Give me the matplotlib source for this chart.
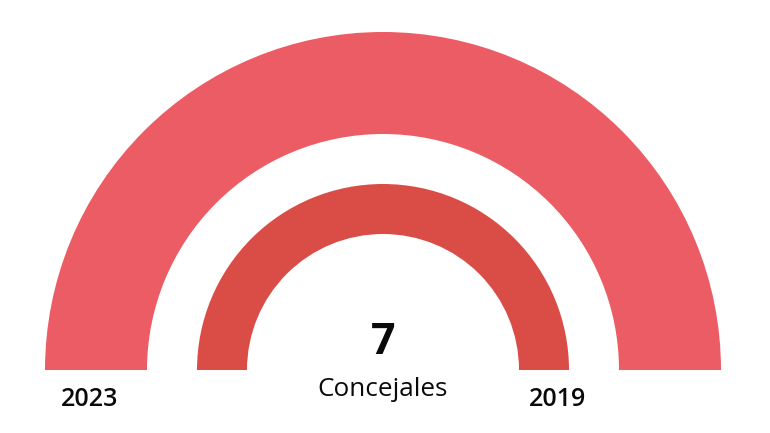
import matplotlib.pyplot as plt
from matplotlib.patches import Wedge

plt.rcParams['font.family'] = ['Open Sans', 'DejaVu Sans']

# two election years, one ring each (outer = 2023, inner = 2019)
years = ['2023', '2019']
parties = ['PSOE']
seats_2023 = [7]
seats_2019 = [7]
colors_2023 = ['#ec5c64']
colors_2019 = ['#d94d46']
total_label = '7'
total_text = 'Concejales'

fig = plt.figure(figsize=(7.7, 4.33), dpi=100)
ax = fig.add_axes([0, 0, 1, 1])
ax.set_xlim(0, 770)
ax.set_ylim(433, 0)
ax.set_aspect('equal')
ax.axis('off')

cx, cy = 383, 370
rings = [
    (seats_2023, colors_2023, 338, 102),
    (seats_2019, colors_2019, 186, 50),
]

for seats, cols, r, w in rings:
    total = sum(seats)
    start = 180
    for s, c in zip(seats, cols):
        span = 180 * s / total
        # y axis is inverted, so angles go from 180 to 360
        ax.add_patch(Wedge((cx, cy), r, start, start + span, width=w,
                           facecolor=c, edgecolor='none'))
        start += span

ax.text(cx, 343, total_label, ha='center', va='center', fontsize=31,
        fontweight='bold', color='#0a0a0a')
ax.text(cx, 390, total_text, ha='center', va='center', fontsize=18.8,
        color='#0a0a0a')
ax.text(90, 399, years[0], ha='center', va='center', fontsize=18,
        fontweight='semibold', color='#0a0a0a')
ax.text(558, 399, years[1], ha='center', va='center', fontsize=18,
        fontweight='semibold', color='#0a0a0a')

fig.savefig('out.png', dpi=100)
